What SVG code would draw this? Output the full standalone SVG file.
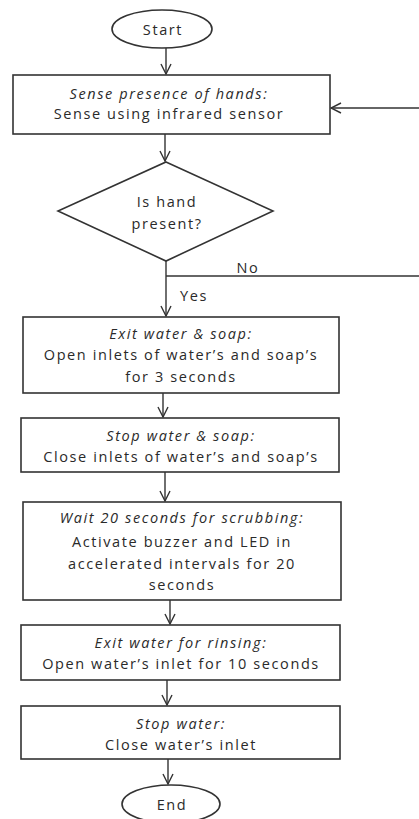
<svg xmlns="http://www.w3.org/2000/svg" width="419" height="819" viewBox="0 0 419 819">
<style>
.s{fill:#fff;stroke:#333;stroke-width:1.6}
.t{font-family:"Open Sans",sans-serif;font-size:14.5px;letter-spacing:1.6px;fill:#2a2a2a;text-anchor:middle;dominant-baseline:central}
.i{font-style:italic}
.c{fill:none;stroke:#333;stroke-width:1.4}
</style>
<defs>
<marker id="a" viewBox="0 0 12 12" refX="11" refY="6" markerWidth="12" markerHeight="12" markerUnits="userSpaceOnUse" orient="auto">
<path d="M1,1 L11,6 L1,11" fill="none" stroke="#333" stroke-width="1.4"/>
</marker>
</defs>
<rect width="419" height="819" fill="#fff"/>
<g id="connectors">
<line class="c" x1="166" y1="48" x2="166" y2="74" marker-end="url(#a)"/>
<line class="c" x1="419" y1="108" x2="331" y2="108" marker-end="url(#a)"/>
<line class="c" x1="165" y1="134" x2="165" y2="161" marker-end="url(#a)"/>
<line class="c" x1="166" y1="261" x2="166" y2="316" marker-end="url(#a)"/>
<line class="c" x1="166" y1="276" x2="419" y2="276"/>
<line class="c" x1="163" y1="393" x2="163" y2="417" marker-end="url(#a)"/>
<line class="c" x1="165" y1="472" x2="165" y2="501" marker-end="url(#a)"/>
<line class="c" x1="170" y1="600" x2="170" y2="624" marker-end="url(#a)"/>
<line class="c" x1="167" y1="680" x2="167" y2="705" marker-end="url(#a)"/>
<line class="c" x1="168" y1="759" x2="168" y2="784" marker-end="url(#a)"/>
<text class="t" x="248" y="267">No</text>
<text class="t" x="194" y="295">Yes</text>
</g>
<g id="start">
<ellipse class="s" cx="162" cy="29" rx="50" ry="19"/>
<text class="t" x="163" y="29">Start</text>
</g>
<g id="sense">
<rect class="s" x="13" y="75" width="317" height="59"/>
<text class="t i" x="169" y="93">Sense presence of hands:</text>
<text class="t" x="169" y="113">Sense using infrared sensor</text>
</g>
<g id="decision">
<polygon class="s" points="166,162 273,211 166,261 58,211"/>
<text class="t" x="167" y="201">Is hand</text>
<text class="t" x="167" y="223">present?</text>
</g>
<g id="exit-water-soap">
<rect class="s" x="23" y="317" width="316" height="76"/>
<text class="t i" x="181" y="333">Exit water &amp; soap:</text>
<text class="t" x="181" y="354">Open inlets of water’s and soap’s</text>
<text class="t" x="181" y="376">for 3 seconds</text>
</g>
<g id="stop-water-soap">
<rect class="s" x="21" y="418" width="318" height="54"/>
<text class="t i" x="181" y="435">Stop water &amp; soap:</text>
<text class="t" x="181" y="456">Close inlets of water’s and soap’s</text>
</g>
<g id="wait">
<rect class="s" x="23" y="502" width="318" height="98"/>
<text class="t i" x="182" y="517">Wait 20 seconds for scrubbing:</text>
<text class="t" x="182" y="541">Activate buzzer and LED in</text>
<text class="t" x="182" y="563">accelerated intervals for 20</text>
<text class="t" x="182" y="584">seconds</text>
</g>
<g id="rinse">
<rect class="s" x="21" y="625" width="319" height="55"/>
<text class="t i" x="181" y="642">Exit water for rinsing:</text>
<text class="t" x="181" y="663">Open water’s inlet for 10 seconds</text>
</g>
<g id="stop-water">
<rect class="s" x="21" y="706" width="319" height="53"/>
<text class="t i" x="181" y="723">Stop water:</text>
<text class="t" x="181" y="744">Close water’s inlet</text>
</g>
<g id="end">
<ellipse class="s" cx="171" cy="804" rx="49" ry="19"/>
<text class="t" x="172" y="804">End</text>
</g>
</svg>
